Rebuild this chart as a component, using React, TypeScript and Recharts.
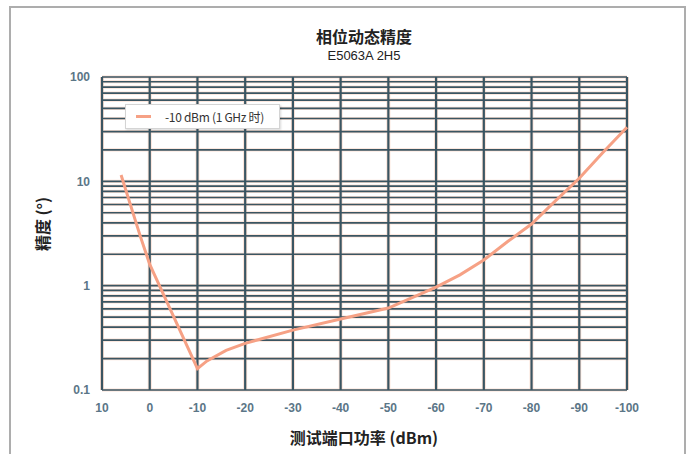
import { LineChart, Line, XAxis, YAxis, CartesianGrid, Legend } from 'recharts';

// 测试端口功率 (dBm) 与 相位动态精度 (°)
const powerDbm = [6, 2, 0, -10, -12, -16, -20, -30, -40, -50, -60, -65, -70, -75, -80, -85, -90, -95, -100];
const phaseAccuracy = [11.5, 3.0, 1.6, 0.16, 0.19, 0.24, 0.28, 0.375, 0.48, 0.61, 0.97, 1.27, 1.76, 2.65, 3.9, 6.5, 10.7, 19, 33];

const xTicks = [10, 0, -10, -20, -30, -40, -50, -60, -70, -80, -90, -100];
const yLabels = [0.1, 1, 10, 100];
const yGrid = [
    0.1, 0.2, 0.3, 0.4, 0.5, 0.6, 0.7, 0.8, 0.9,
    1, 2, 3, 4, 5, 6, 7, 8, 9,
    10, 20, 30, 40, 50, 60, 70, 80, 90,
    100,
];

const seriesName = '-10 dBm (1 GHz 时)';

const data = powerDbm.map((p, i) => ({ power: p, acc: phaseAccuracy[i] }));

const GRID = '#3a5562';
const HALO = '#fbe0d4';
const LINE = '#f6a185';
const TICK = '#5b7687';
const FRAME = '#adadad';
const CJK = '"Noto Sans CJK SC", "Noto Sans", sans-serif';

const YTick = (props: any) => {
    const { x, y, payload } = props;
    if (!yLabels.includes(payload.value)) return null;
    return (
        <text x={x} y={y} dy="0.35em" textAnchor="end" fill={TICK} fontSize={12} fontWeight={700}
            fontFamily="'Liberation Sans', Arial, sans-serif">
            {payload.value}
        </text>
    );
};

const XTick = (props: any) => {
    const { x, y, payload } = props;
    return (
        <text x={x} y={y} dy="0.71em" textAnchor="middle" fill={TICK} fontSize={12} fontWeight={700}
            fontFamily="'Liberation Sans', Arial, sans-serif">
            {payload.value}
        </text>
    );
};

const LegendBox = () => (
    <div
        style={{
            display: 'flex',
            alignItems: 'center',
            width: 155,
            height: 25,
            background: '#fff',
            border: '1px solid #d4d4d4',
            boxShadow: '1px 1px 2px rgba(0,0,0,0.15)',
            fontFamily: CJK,
            fontSize: 12,
            color: '#333',
            boxSizing: 'border-box',
        }}
    >
        <span style={{ display: 'inline-block', width: 15, height: 3, background: LINE, marginLeft: 10, marginRight: 14 }} />
        <span style={{ letterSpacing: -0.3 }}>{seriesName}</span>
    </div>
);

export default function App() {
    return (
        <div style={{ position: 'absolute', left: 0, top: 0, width: 690, height: 454, background: '#fff', overflow: 'hidden' }}>
            {/* outer frame of the figure */}
            <div style={{ position: 'absolute', left: 9, top: 6, width: 677, height: 2, background: FRAME }} />
            <div style={{ position: 'absolute', left: 9, top: 6, width: 2, height: 448, background: FRAME }} />
            <div style={{ position: 'absolute', left: 684, top: 6, width: 2, height: 448, background: FRAME }} />

            <div style={{ position: 'absolute', left: 0, width: 728, top: 26, textAlign: 'center', fontFamily: CJK, fontWeight: 700, fontSize: 16, color: '#222', lineHeight: '20px' }}>
                相位动态精度
            </div>
            <div style={{ position: 'absolute', left: 0, width: 728, top: 48, textAlign: 'center', fontFamily: "'Liberation Sans', Arial, sans-serif", fontSize: 13, color: '#222', lineHeight: '16px' }}>
                E5063A 2H5
            </div>
            <div style={{ position: 'absolute', left: 0, width: 728, top: 427, textAlign: 'center', fontFamily: CJK, fontWeight: 700, fontSize: 16, color: '#222', lineHeight: '20px' }}>
                测试端口功率 (dBm)
            </div>
            <div
                style={{
                    position: 'absolute',
                    left: 42,
                    top: 224,
                    transform: 'translate(-50%, -50%) rotate(-90deg)',
                    whiteSpace: 'nowrap',
                    fontFamily: CJK,
                    fontWeight: 700,
                    fontSize: 16,
                    color: '#222',
                }}
            >
                精度 (°)
            </div>
            <div style={{ position: 'absolute', left: 0, top: 0 }}>
                <LineChart width={690} height={454} data={data} margin={{ top: 77, right: 63, bottom: 34, left: 62 }}>
                    <CartesianGrid horizontal={false} stroke={HALO} strokeWidth={4} />
                    <CartesianGrid vertical={false} stroke={HALO} strokeWidth={3.2} />
                    <CartesianGrid horizontal={false} stroke={GRID} strokeWidth={2.2} />
                    <CartesianGrid vertical={false} stroke={GRID} strokeWidth={1.7} />
                    <XAxis
                        dataKey="power"
                        type="number"
                        domain={[-100, 10]}
                        reversed
                        ticks={xTicks}
                        interval={0}
                        axisLine={false}
                        tickLine={false}
                        tickSize={13}
                        tickMargin={0}
                        height={30}
                        tick={<XTick />}
                    />
                    <YAxis
                        dataKey="acc"
                        type="number"
                        scale="log"
                        domain={[0.1, 100]}
                        allowDataOverflow
                        ticks={yGrid}
                        interval={0}
                        axisLine={false}
                        tickLine={false}
                        tickSize={12}
                        tickMargin={0}
                        width={40}
                        tick={<YTick />}
                    />
                    <Legend
                        layout="horizontal"
                        verticalAlign="middle"
                        align="center"
                        wrapperStyle={{ position: 'absolute', left: 125, top: 104, width: 'auto', height: 'auto' }}
                        content={<LegendBox />}
                    />
                    <Line
                        type="linear"
                        dataKey="acc"
                        name={seriesName}
                        stroke={LINE}
                        strokeWidth={3}
                        dot={false}
                        isAnimationActive={false}
                    />
                </LineChart>
            </div>
        </div>
    );
}
